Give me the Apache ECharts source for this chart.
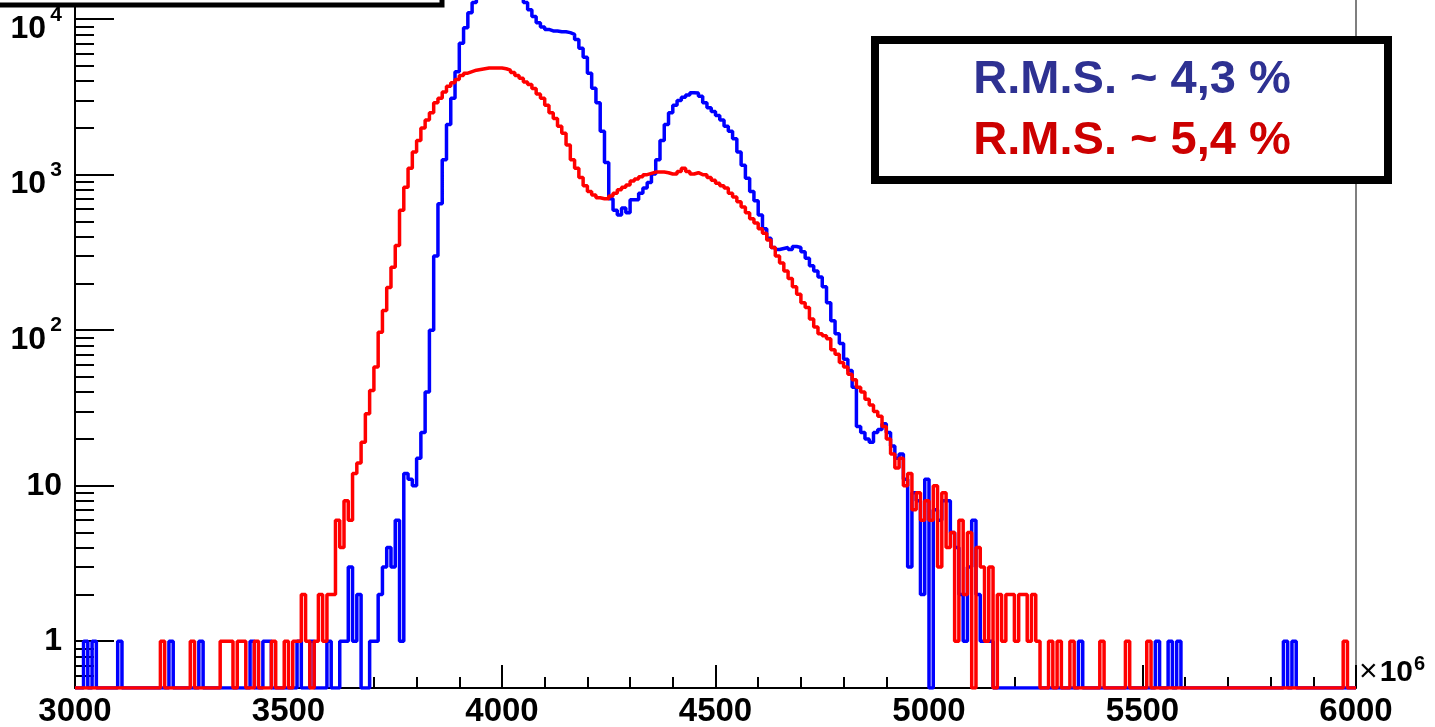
<!DOCTYPE html>
<html>
<head>
<meta charset="utf-8">
<script src="https://cdn.jsdelivr.net/npm/echarts@6/dist/echarts.min.js"></script>
<style>
html,body{margin:0;padding:0;background:#fff;}
#chart{width:1435px;height:727px;}
</style>
</head>
<body>
<div id="chart"></div>
<script>
// ---- data (counts per bin, bins of 10 x10^6 starting at 3000) ----
const xMin = 3000;
const xMax = 6000;
const binWidth = 10;
const yMin = 0.5;
const yMax = 13290;

const blueCounts = [
  0,0,1,0,1,0,0,0,0,0,
  1,0,0,0,0,0,0,0,0,0,
  0,0,1,0,0,0,0,0,0,1,
  0,0,0,0,0,0,0,0,0,0,
  0,1,0,0,1,1,0,0,0,0,
  0,0,1,0,0,1,0,0,0,1,
  0,0,1,1,3,1,2,0,0,1,
  1,2,3,4,3,6,1,12,11,10,
  15,22,40,100,300,650,1250,2100,3100,4600,
  7000,8800,11000,12800,14500,16500,18000,19000,19500,19500,
  19000,18000,16800,15500,14200,12800,11500,10400,9500,8900,
  8600,8400,8400,8300,8300,8200,8000,7400,6500,5700,
  4500,3600,2900,1900,1200,700,590,550,610,570,
  690,690,760,820,890,1010,1250,1660,2100,2500,
  2800,3000,3150,3250,3370,3350,3200,2900,2700,2550,
  2400,2250,2050,1900,1700,1400,1150,950,780,680,
  550,450,390,340,330,335,340,330,345,340,
  320,290,260,240,220,190,150,115,95,82,
  65,55,43,24,22,20,19,22,23,25,
  22,18,15,16,11,3,9,8,2,11,
  0,7,6,8,8,5,4,2,1,3,
  6,2,1,1,1,0,0,0,0,0,
  0,0,0,0,0,0,0,0,0,0,
  0,0,0,0,0,1,0,0,0,0,
  0,0,0,0,0,0,0,0,0,0,
  0,0,0,1,0,0,1,0,1,0,
  0,0,0,0,0,0,0,0,0,0,
  0,0,0,0,0,0,0,0,0,0,
  0,0,0,1,0,1,0,0,0,0,
  0,0,0,0,0,0,0,0,0,0
];

const redCounts = [
  0,0,0,0,0,0,0,0,0,0,
  0,0,0,0,0,0,0,0,0,0,
  1,0,0,0,0,0,0,1,0,0,
  0,0,0,0,1,1,1,0,1,1,
  0,0,1,0,0,0,1,0,0,1,
  0,1,1,2,1,0,1,2,1,2,
  2,6,4,8,6,12,14,19,29,41,
  58,97,134,188,254,350,590,830,1100,1400,
  1660,2000,2250,2500,2900,3100,3400,3700,3900,4100,
  4350,4500,4600,4700,4750,4800,4850,4850,4850,4850,
  4800,4700,4550,4350,4170,3950,3800,3580,3300,3100,
  2800,2500,2300,2050,1850,1550,1250,1100,960,850,
  780,740,710,700,700,730,760,800,830,860,
  910,940,970,1000,1020,1040,1040,1040,1030,1010,
  1010,1050,1100,1050,1010,1030,1000,1000,960,920,
  880,850,820,760,720,670,620,570,520,490,
  450,420,380,340,300,270,240,215,190,170,
  150,140,118,105,95,92,88,75,70,62,
  58,52,48,43,40,36,33,30,28,24,
  20,16,13,15,10,12,7,9,6,8,
  6,10,3,9,4,5,1,6,2,5,
  0,4,3,1,3,0,2,1,2,2,
  1,2,2,1,2,1,0,0,1,0,
  1,0,0,1,0,0,0,0,0,0,
  1,0,0,0,0,0,1,0,0,0,
  0,1,0,0,0,0,0,0,0,0,
  0,0,0,0,0,0,0,0,0,0,
  0,0,0,0,0,0,0,0,0,0,
  0,0,0,0,0,0,0,0,0,0,
  0,0,0,0,0,0,0,1,0,0
];

const yMajorTicks = [1, 10, 100, 1000, 10000];
const yMinorTicks = [0.6,0.7,0.8,0.9,
  2,3,4,5,6,7,8,9,
  20,30,40,50,60,70,80,90,
  200,300,400,500,600,700,800,900,
  2000,3000,4000,5000,6000,7000,8000,9000];
const xTickStep = 500;
const rmsTexts = ['R.M.S. ~ 4,3 %', 'R.M.S. ~ 5,4 %'];

// ---- build step-histogram data ----
function histData(counts) {
  const out = [];
  for (let i = 0; i < counts.length; i++) {
    const c = counts[i];
    out.push([xMin + i * binWidth, c > 0 ? c : yMin]); // empty bins drawn on the frame bottom
  }
  const last = counts[counts.length - 1];
  out.push([xMax, last > 0 ? last : yMin]);
  return out;
}

const FONT = '"Liberation Sans", Arial, Helvetica, sans-serif';
const chart = echarts.init(document.getElementById('chart'), null, {renderer: 'canvas'});

const option = {
  animation: false,
  backgroundColor: '#ffffff',
  grid: {
    left: 75, right: 79, top: 0, bottom: 39,
    show: false,
    containLabel: false,
    outerBoundsMode: 'none'
  },
  xAxis: {
    type: 'value', min: xMin, max: xMax, interval: xTickStep,
    name: '{x|×}{b|10}{s|6}',
    nameLocation: 'end', nameGap: 3,
    nameTextStyle: {
      align: 'left', verticalAlign: 'bottom',
      fontSize: 30, fontWeight: 'bold', fontFamily: FONT, color: '#000',
      rich: {
        x: {fontSize: 32, fontWeight: 'normal', fontFamily: FONT, color: '#000', lineHeight: 28, verticalAlign: 'bottom'},
        b: {fontSize: 30, fontWeight: 'bold', fontFamily: FONT, color: '#000', lineHeight: 28, verticalAlign: 'bottom', padding: [0,0,0,2]},
        s: {fontSize: 20, fontWeight: 'bold', fontFamily: FONT, color: '#000', lineHeight: 20, verticalAlign: 'bottom', padding: [0,0,14,1]}
      }
    },
    axisLine: {show: true, onZero: false, lineStyle: {color: '#000', width: 2}},
    axisTick: {show: true, inside: true, length: 23, lineStyle: {color: '#000', width: 2}},
    minorTick: {show: true, splitNumber: 5, length: 11, lineStyle: {color: '#000', width: 2}},
    splitLine: {show: false},
    minorSplitLine: {show: false},
    axisLabel: {
      show: true, margin: 7, color: '#000', fontSize: 33, fontWeight: 'bold', fontFamily: FONT,
      formatter: function (v) { return String(v); }
    }
  },
  yAxis: [
    {
      type: 'log', logBase: 10, min: yMin, max: yMax, position: 'left',
      axisLine: {show: true, onZero: false, lineStyle: {color: '#000', width: 2}},
      axisTick: {show: true, inside: true, length: 39, customValues: yMajorTicks, lineStyle: {color: '#000', width: 2}},
      splitLine: {show: false},
      axisLabel: {
        show: true, customValues: yMajorTicks, margin: 13,
        color: '#000', fontSize: 32, fontWeight: 'bold', fontFamily: FONT,
        formatter: function (v) {
          const e = Math.round(Math.log10(v));
          if (e === 0) return '1';
          if (e === 1) return '10';
          // superscript on its own line, base "10" below, right-aligned with a spacer
          return '{s|' + e + '}\n{b|10}{g| }';
        },
        rich: {
          s: {fontSize: 21, fontWeight: 'bold', fontFamily: FONT, color: '#000', lineHeight: 19},
          b: {fontSize: 32, fontWeight: 'bold', fontFamily: FONT, color: '#000', lineHeight: 9},
          g: {fontSize: 21, fontFamily: FONT, color: '#000', lineHeight: 9, width: 16}
        }
      }
    },
    {
      type: 'log', logBase: 10, min: yMin, max: yMax, position: 'left',
      axisLine: {show: false},
      axisTick: {show: true, inside: true, length: 19, customValues: yMinorTicks, lineStyle: {color: '#000', width: 2}},
      axisLabel: {show: false},
      splitLine: {show: false}
    },
    {
      type: 'log', logBase: 10, min: yMin, max: yMax, position: 'right',
      axisLine: {show: true, onZero: false, lineStyle: {color: '#555', width: 1.5}},
      axisTick: {show: false},
      axisLabel: {show: false},
      splitLine: {show: false}
    }
  ],
  series: [
    {
      name: 'blue', type: 'line', step: 'end', yAxisIndex: 0,
      data: histData(blueCounts), showSymbol: false, symbol: 'none',
      lineStyle: {color: '#0000ff', width: 3.5}, z: 3, clip: true
    },
    {
      name: 'red', type: 'line', step: 'end', yAxisIndex: 0,
      data: histData(redCounts), showSymbol: false, symbol: 'none',
      lineStyle: {color: '#ff0000', width: 3.5}, z: 4, clip: true
    }
  ],
  graphic: [
    {
      type: 'rect', z: 100,
      shape: {x: -10, y: -60, width: 452, height: 65},
      style: {fill: '#fff', stroke: '#000', lineWidth: 5}
    },
    {
      type: 'rect', z: 100,
      shape: {x: 875, y: 40, width: 513, height: 140},
      style: {fill: '#fff', stroke: '#000', lineWidth: 8}
    },
    {
      type: 'text', z: 101, x: 1132, y: 80,
      style: {text: rmsTexts[0], fill: '#2e3192', font: 'bold 47px ' + FONT, textAlign: 'center', textVerticalAlign: 'middle'}
    },
    {
      type: 'text', z: 101, x: 1132, y: 141,
      style: {text: rmsTexts[1], fill: '#cc0000', font: 'bold 47px ' + FONT, textAlign: 'center', textVerticalAlign: 'middle'}
    }
  ]
};
chart.setOption(option);
</script>
</body>
</html>
